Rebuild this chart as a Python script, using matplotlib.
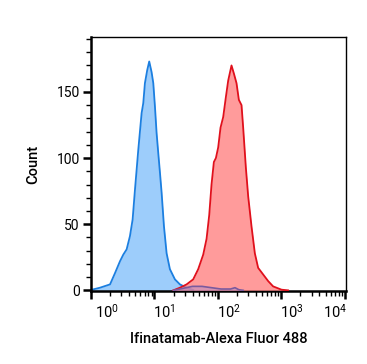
import matplotlib
matplotlib.use("Agg")
import matplotlib.pyplot as plt
import matplotlib.transforms as mtransforms
import numpy as np
from matplotlib.ticker import LogLocator, MultipleLocator, LogFormatterMathtext

plt.rcParams['font.family'] = ['Roboto', 'DejaVu Sans']
plt.rcParams['mathtext.fontset'] = 'custom'
plt.rcParams['mathtext.rm'] = 'Roboto'
plt.rcParams['mathtext.it'] = 'Roboto'

# Blue population (log10 fluorescence, count)
blue_log = [0.0, 0.142, 0.30, 0.378, 0.457, 0.509, 0.562, 0.614, 0.656, 0.693, 0.745,
            0.798, 0.824, 0.850, 0.887, 0.918, 0.955, 0.982, 1.008, 1.034, 1.060,
            1.087, 1.113, 1.150, 1.192, 1.244, 1.323, 1.402, 1.507, 1.611]
blue_cnt = [0.3, 2, 4.5, 13, 22, 27, 31, 41, 53.5, 76, 106,
            134, 141.5, 156.6, 166.6, 173, 165, 156.6, 139, 119, 104,
            89, 74, 48.5, 28, 16, 8.3, 4.5, 2, 0.3]

# Red population
red_log = [1.297, 1.402, 1.507, 1.611, 1.690, 1.769, 1.822, 1.864, 1.900, 1.937, 1.969,
           2.005, 2.042, 2.084, 2.126, 2.163, 2.215, 2.252, 2.294, 2.331, 2.373,
           2.399, 2.441, 2.478, 2.530, 2.583, 2.635, 2.714, 2.793, 2.871, 3.003, 3.107]
red_cnt = [0, 2, 4.5, 8.3, 16, 27, 39, 57, 80, 97, 100,
           108, 123, 131, 146, 158.6, 170, 164, 156.6, 144, 140,
           123, 93, 71, 48.5, 28, 17, 12, 7, 3, 0.5, 0]

# Small purple population near baseline
purple_log = [1.30, 1.45, 1.60, 1.75, 1.90, 2.05, 2.20, 2.27, 2.33, 2.40]
purple_cnt = [0, 1.5, 3, 3, 2, 1, 1, 2, 0.5, 0]

y_ticks = [0, 50, 100, 150]
x_ticks = [1, 10, 100, 1000, 10000]

fig = plt.figure(figsize=(3.67, 3.64), dpi=100)
ax = fig.add_axes([91/367, 1-291/364, (346-91)/367, (291-37)/364])

bx = 10**np.array(blue_log)
rx = 10**np.array(red_log)
px = 10**np.array(purple_log)

ax.fill_between(bx, 0, blue_cnt, color='#9dcdfb', lw=0, zorder=1)
ax.plot(bx, blue_cnt, color='#1c7fe0', lw=1.3, zorder=2)
ax.fill_between(rx, 0, red_cnt, color='#ff7a7a', alpha=0.75, lw=0, zorder=3)
ax.plot(rx, red_cnt, color='#e0101c', lw=1.3, zorder=4)
ax.fill_between(px, 0, purple_cnt, color='#b08cc8', alpha=0.5, lw=0, zorder=5)
ax.plot(px, purple_cnt, color='#7a5a9e', lw=1.2, zorder=6)

ax.set_xscale('log')
ax.set_xlim(1, 10**4.02)
ax.set_ylim(-0.5, 191.5)

ax.set_xticks(x_ticks)
ax.xaxis.set_major_formatter(LogFormatterMathtext())
ax.xaxis.set_minor_locator(LogLocator(base=10, subs=np.arange(2, 10)))
ax.xaxis.set_minor_formatter(plt.NullFormatter())
ax.set_yticks(y_ticks)
ax.yaxis.set_minor_locator(MultipleLocator(10))

for s in ['left', 'bottom']:
    ax.spines[s].set_linewidth(1.8)
for s in ['top', 'right']:
    ax.spines[s].set_linewidth(1.0)

ax.tick_params(axis='both', which='major', direction='out', length=6, width=1.8,
               labelsize=10, color='black', pad=2)
ax.tick_params(axis='x', which='major', labelsize=10.5, pad=2.5)
ax.tick_params(axis='both', which='minor', direction='out', length=3.5, width=1.0)

# x tick labels: start at the tick (first nudged right, last ends at tick)
labels = ax.get_xticklabels()
for i, lbl in enumerate(labels):
    if i == len(labels) - 1:
        lbl.set_ha('right')
        dx = 2 / 100
    elif i == 0:
        lbl.set_ha('left')
        dx = 4 / 100
    else:
        lbl.set_ha('left')
        dx = -1 / 100
    lbl.set_transform(lbl.get_transform() +
                      mtransforms.ScaledTranslation(dx, 0, fig.dpi_scale_trans))

ax.set_ylabel('Count', fontsize=10.5, fontweight='medium', labelpad=12)
ax.set_xlabel('Ifinatamab-Alexa Fluor 488', fontsize=10.5, fontweight='medium', labelpad=8)

fig.savefig('out.png', dpi=100)
